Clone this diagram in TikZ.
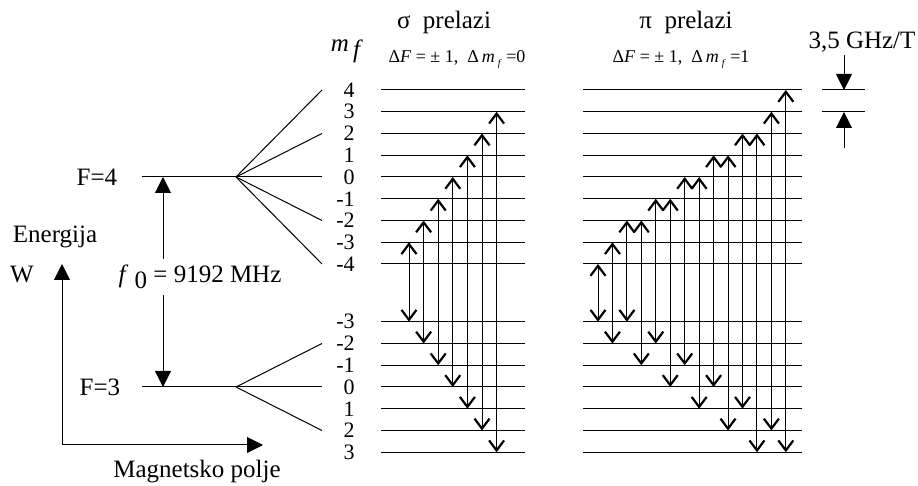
\documentclass[tikz,border=0pt]{standalone}
\usepackage{fontspec}
\setmainfont{Liberation Serif}
\usetikzlibrary{arrows.meta}
\tikzset{
  lvl/.style={line width=0.5pt},
  txt/.style={font=\fontsize{12.5}{15}\selectfont, inner sep=0pt},
  num/.style={font=\fontsize{11}{13}\selectfont, anchor=east, inner sep=0pt},
  rulelbl/.style={font=\fontsize{9}{11}\selectfont, inner sep=0pt},
  trans/.style={line width=0.5pt,
    {Straight Barb[length=5pt,width=7.5pt,line width=1.1pt]}-{Straight Barb[length=5pt,width=7.5pt,line width=1.1pt]}},
  harr/.style={line width=0.5pt, -{Triangle[length=8pt,width=8pt]}},
}

\begin{document}
\begin{tikzpicture}[x=0.5pt, y=-0.5pt]
  \useasboundingbox (0,0) rectangle (918,486);
  % level positions
  \foreach \m in {-4,...,4} \coordinate (u\m) at (0,{177-21.75*\m});
  \foreach \m in {-3,...,3} \coordinate (d\m) at (0,{387+21.75*\m});
  % titles
  \node[txt] (sig) at (444,22) {σ\ \ prelazi};
  \node[txt] (pit) at (686,22) {π\ \ prelazi};
  \node[txt] (mf) at (347,51) {\textit{m}\,\raisebox{-0.5ex}{\textit{f}}};
  \node[rulelbl] (rsig) at (457,60) {Δ\textit{F} = ± 1,\ \ Δ\,\textit{m}\,\raisebox{-0.5ex}{\tiny\textit{f}} =0};
  \node[rulelbl] (rpi) at (681,60) {Δ\textit{F} = ± 1,\ \ Δ\,\textit{m}\,\raisebox{-0.5ex}{\tiny\textit{f}} =1};
  % left part
  \node[txt] (F4) at (97,177) {F=4};
  \node[txt] (F3) at (100,387) {F=3};
  \node[txt] (en) at (55,237) {Energija};
  \node[txt] (w) at (22,275) {W};
  \node[txt] (mag) at (197,472) {Magnetsko polje};
  \node[txt, inner sep=3pt] (f0) at (200,277) {\textit{f}\ \raisebox{-0.5ex}{0} = 9192 MHz};
  \coordinate (s4) at (142,177);
  \coordinate (s3) at (142,387);
  \coordinate (c4) at (236,177);
  \coordinate (c3) at (236,387);
  \draw[lvl] (s4) -- (322,0 |- s4);
  \draw[lvl] (s3) -- (322,0 |- s3);
  \foreach \m in {4,2,-2,-4} \draw[lvl] (c4) -- (322,0 |- u\m);
  \foreach \m in {-2,2} \draw[lvl] (c3) -- (322,0 |- d\m);
  \coordinate (fa) at (163,177);
  \coordinate (fb) at (163,387);
  \draw[harr] (fa |- f0.north) -- (fa);
  \draw[harr] (fb |- f0.south) -- (fb);
  \coordinate (o) at (62,445);
  \coordinate (wt) at (62,264);
  \coordinate (bt) at (263,445);
  \draw[harr] (o) -- (wt);
  \draw[harr] (o) -- (bt);
  % levels and numbers
  \foreach \m in {-4,...,4} {
    \draw[lvl] (381,0 |- u\m) -- (525,0 |- u\m);
    \draw[lvl] (583,0 |- u\m) -- (802,0 |- u\m);
    \node[num] (nu\m) at (355,0 |- u\m) {\m};
  }
  \foreach \m in {-3,...,3} {
    \draw[lvl] (381,0 |- d\m) -- (525,0 |- d\m);
    \draw[lvl] (583,0 |- d\m) -- (802,0 |- d\m);
    \node[num] (nd\m) at (355,0 |- d\m) {\m};
  }
  % sigma transitions
  \foreach \k in {0,...,6} {
    \pgfmathtruncatemacro{\m}{\k-3}
    \pgfmathsetmacro{\xx}{409+14.6*\k}
    \draw[trans] (\xx,0 |- d\m) -- (\xx,0 |- u\m);
  }
  % pi transitions
  \foreach \j/\b/\t in {0/-3/-4, 1/-2/-3, 2/-3/-2, 3/-1/-2, 4/-2/-1, 5/0/-1, 6/-1/0,
                        7/1/0, 8/0/1, 9/2/1, 10/1/2, 11/3/2, 12/2/3, 13/3/4} {
    \pgfmathsetmacro{\xx}{598+14.45*\j}
    \draw[trans] (\xx,0 |- d\b) -- (\xx,0 |- u\t);
  }
  % scale marker
  \node[txt] (gz) at (862,42) {3,5 GHz/T};
  \coordinate (g1) at (822,90);
  \coordinate (g2) at (822,112);
  \draw[lvl] (g1) -- (865,0 |- g1);
  \draw[lvl] (g2) -- (865,0 |- g2);
  \coordinate (ga) at (844,55);
  \coordinate (gb) at (844,148);
  \draw[harr] (ga) -- (ga |- g1);
  \draw[harr] (gb) -- (gb |- g2);
\end{tikzpicture}
\end{document}
